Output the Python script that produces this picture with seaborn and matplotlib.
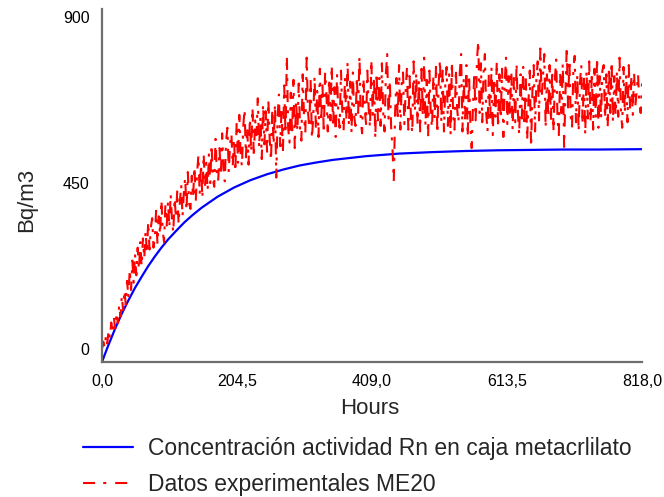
import numpy as np
import pandas as pd
import seaborn as sns
import matplotlib.pyplot as plt

# ---------------- data ----------------
model_hours = [0, 5, 10, 15, 20, 30, 40, 50, 60, 70, 80, 90, 100, 112, 125, 137, 150,
               162, 175, 187, 200, 225, 250, 275, 300, 325, 350, 400, 450, 500, 550,
               600, 650, 700, 750, 818]
model_bq = [-35, -11, 12, 34, 56, 96, 132, 166, 196, 225, 251, 275, 297, 320, 344, 363,
            382, 397, 413, 425, 438, 458, 474, 487, 498, 506, 513, 523, 530, 534, 537,
            539, 540, 541, 541, 542]

exp_start = 0
exp_step = 2
exp_bq = [
    0, 20, 5, 38, 15, 52, 30, 72, 45, 85,
    55, 100, 70, 120, 88, 145, 105, 160, 120, 185,
    140, 215, 160, 240, 180, 258, 200, 275, 215, 290,
    225, 300, 245, 320, 260, 345, 270, 330, 355, 275,
    300, 375, 285, 360, 310, 405, 320, 290, 390, 335,
    400, 330, 420, 350, 315, 410, 355, 430, 340, 400,
    445, 360, 425, 465, 375, 480, 395, 380, 470, 410,
    495, 400, 475, 525, 420, 500, 410, 530, 440, 505,
    430, 530, 450, 555, 460, 440, 570, 475, 455, 545,
    470, 585, 490, 455, 565, 600, 480, 555, 585, 495,
    570, 480, 615, 505, 635, 525, 495, 605, 650, 520,
    600, 500, 625, 535, 655, 520, 620, 580, 680, 545,
    630, 515, 665, 555, 645, 535, 675, 570, 510, 650,
    555, 665, 465, 630, 690, 550, 655, 530, 715, 585,
    795, 600, 560, 695, 580, 730, 545, 675, 590, 720,
    600, 565, 745, 630, 585, 790, 645, 600, 730, 570,
    630, 740, 595, 700, 575, 760, 615, 715, 585, 750,
    690, 590, 735, 620, 770, 600, 710, 575, 745, 635,
    600, 755, 645, 590, 735, 620, 780, 605, 725, 585,
    750, 630, 605, 740, 640, 795, 620, 585, 735, 650,
    610, 755, 650, 600, 785, 635, 740, 570, 750, 620,
    735, 605, 775, 640, 590, 745, 800, 625, 730, 600,
    545, 455, 640, 735, 620, 770, 595, 720, 750, 610,
    700, 765, 595, 740, 625, 585, 780, 645, 750, 610,
    730, 590, 760, 630, 790, 605, 730, 575, 755, 635,
    600, 740, 625, 770, 585, 720, 785, 615, 755, 590,
    715, 765, 605, 745, 580, 780, 630, 595, 760, 650,
    615, 750, 800, 590, 735, 625, 770, 575, 745, 610,
    545, 660, 750, 620, 785, 835, 640, 775, 615, 750,
    800, 640, 590, 745, 615, 765, 580, 735, 630, 780,
    600, 745, 625, 760, 575, 720, 790, 610, 740, 630,
    755, 595, 735, 615, 775, 640, 580, 745, 625, 765,
    605, 735, 565, 670, 755, 548, 700, 770, 590, 730,
    780, 620, 815, 680, 740, 800, 600, 745, 630, 770,
    615, 755, 590, 730, 785, 625, 580, 750, 640, 775,
    548, 690, 820, 655, 785, 630, 600, 755, 795, 615,
    745, 590, 720, 770, 610, 740, 580, 755, 625, 780,
    615, 750, 595, 760, 630, 790, 600, 740, 625, 755,
    770, 625, 745, 600, 765, 640, 780, 615, 740, 635,
    755, 630, 790, 650, 600, 765, 640, 745, 615, 770,
    650, 740, 635, 750, 660, 700, 745, 665, 640, 720,
]
exp_hours = [exp_start + exp_step * i for i in range(len(exp_bq))]

x_ticks = [0.0, 204.5, 409.0, 613.5, 818.0]
x_tick_labels = ["0,0", "204,5", "409,0", "613,5", "818,0"]
y_ticks = [0, 450, 900]
y_tick_labels = ["0", "450", "900"]

label_model = "Concentración actividad Rn en caja metacrlilato"
label_exp = "Datos experimentales ME20"

# ---------------- plot ----------------
sns.set_theme(style="white")
plt.rcParams["font.family"] = ["Liberation Sans", "DejaVu Sans"]

df_model = pd.DataFrame({"Hours": model_hours, "Bq": model_bq})
df_exp = pd.DataFrame({"Hours": exp_hours, "Bq": exp_bq})

fig = plt.figure(figsize=(6.64, 4.97), dpi=100)
ax = fig.add_axes([102 / 664, 135 / 497, 540 / 664, 353 / 497])

sns.lineplot(data=df_model, x="Hours", y="Bq", ax=ax, color="#0000ff",
             linewidth=1.6, label=label_model, estimator=None, sort=False)
sns.lineplot(data=df_exp, x="Hours", y="Bq", ax=ax, color="#ff0000",
             linewidth=1.5, linestyle=(0, (5.8, 3.9, 1.45, 4.3)),
             label=label_exp, estimator=None, sort=False)

ax.set_xlim(0, 818)
ax.set_ylim(-35, 922)
ax.set_xticks(x_ticks)
ax.set_xticklabels(x_tick_labels)
ax.set_yticks(y_ticks)
ax.set_yticklabels(y_tick_labels)
ax.tick_params(axis="both", length=0, labelsize=11.5, colors="#000000")
ax.tick_params(axis="x", pad=9)
ax.tick_params(axis="y", pad=9)
ax.set_xlabel("")
ax.set_ylabel("")
for side in ["top", "right"]:
    ax.spines[side].set_visible(False)
for side in ["left", "bottom"]:
    ax.spines[side].set_color("#6e6e6e")
    ax.spines[side].set_linewidth(1.6)

fig.text(370 / 664, 1 - 408 / 497, "Hours", ha="center", va="center", fontsize=16)
fig.text(27 / 664, 1 - 200 / 497, "Bq/m3", ha="center", va="center",
         rotation=90, fontsize=16)

handles, labels = ax.get_legend_handles_labels()
if ax.legend_ is not None:
    ax.legend_.remove()
fig.legend(handles, labels, loc="upper left", bbox_to_anchor=(83 / 664, 1 - 437 / 497),
           frameon=False, fontsize=16.5, handlelength=2.18, handletextpad=0.65,
           labelspacing=0.55, borderpad=0, borderaxespad=0)

fig.savefig("out.png", dpi=100)
